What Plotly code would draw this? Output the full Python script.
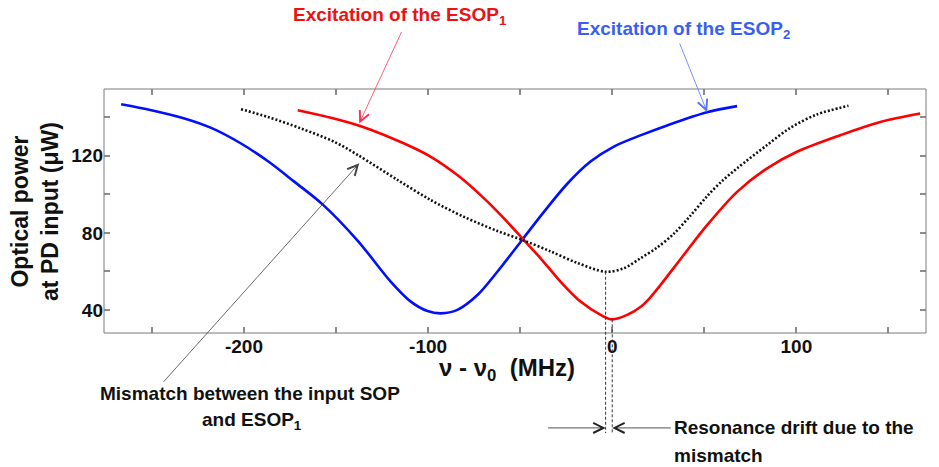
import numpy as np
import plotly.graph_objects as go

# ---- data ----
blue_x = [-266.7, -250.3, -232.3, -217.8, -201.6, -187.1, -172.7, -157.3, -138.3,
          -120.2, -109.4, -100.3, -93.1, -84.1, -73.2, -62.4, -49.7, -37.1,
          -24.4, -11.8, 0.9, 15.3, 29.8, 51.5, 67.8]
blue_y = [146.8, 143.7, 139.4, 134.5, 126.4, 117.3, 106.6, 94.8, 76.0,
          54.6, 44.3, 39.4, 38.2, 40.0, 47.7, 59.8, 75.4, 90.9,
          105.5, 117.0, 124.8, 130.6, 135.8, 142.6, 145.8]

red_x = [-170.8, -152.8, -136.5, -113.0, -98.5, -84.1, -69.6, -58.8, -48.8,
         -38.9, -28.0, -17.2, -6.3, 0.0, 8.1, 15.3, 20.5, 26.2, 38.8, 51.5,
         67.8, 84.1, 100.3, 123.8, 145.5, 167.2]
red_y = [143.7, 139.8, 135.4, 126.4, 119.5, 110.0, 97.9, 87.5, 77.1,
         66.8, 54.6, 44.3, 37.4, 35.1, 37.4, 41.5, 46.3, 52.9, 68.5, 84.0,
         101.3, 113.5, 122.1, 130.7, 137.6, 142.0]

black_x = [-201.6, -187.1, -169.0, -151.0, -138.3, -116.6, -98.5, -80.5, -62.4,
           -47.9, -33.5, -19.0, -3.6, 6.3, 15.3, 24.3, 33.4, 42.5, 51.5, 59.5, 67.8, 84.1,
           96.7, 111.2, 128.3]
black_y = [144.2, 140.2, 134.2, 127.3, 120.5, 107.5, 97.0, 88.3, 81.0,
           76.0, 70.4, 64.4, 59.8, 61.6, 66.8, 72.3, 79.5, 89.0, 99.0, 106.8, 113.5, 125.6,
           134.5, 141.5, 146.0]

x_tickvals = [-250, -200, -150, -100, -50, 0, 50, 100, 150]
x_ticktext = ["", "-200", "", "-100", "", "0", "", "100", ""]
y_tickvals = [40, 60, 80, 100, 120, 140]
y_ticktext = ["40", "", "80", "", "120", ""]

X_RANGE = [-276, 170.4]
Y_RANGE = [28.0, 154.7]

FONT = "Liberation Sans, Arial, sans-serif"
AXCOL = "#7a7a7a"

fig = go.Figure()
fig.add_trace(go.Scatter(x=blue_x, y=blue_y, mode="lines",
                         line=dict(color="#0010ff", width=2.6, shape="spline", smoothing=0.9)))
fig.add_trace(go.Scatter(x=red_x, y=red_y, mode="lines",
                         line=dict(color="#ff0000", width=2.6, shape="spline", smoothing=0.9)))
fig.add_trace(go.Scatter(x=black_x, y=black_y, mode="lines",
                         line=dict(color="#111111", width=2.6, dash="2px,2px", shape="spline", smoothing=0.9)))


def px(v):
    return (v - X_RANGE[0]) / (X_RANGE[1] - X_RANGE[0])


def py(v):
    return (v - Y_RANGE[0]) / (Y_RANGE[1] - Y_RANGE[0])


# frame
fig.add_shape(type="rect", xref="paper", yref="paper", x0=0, x1=1, y0=0, y1=1,
              line=dict(color=AXCOL, width=1), layer="above")

# dashed verticals at the two minima
bi = int(np.argmin(black_y))
ri = int(np.argmin(red_y))
for xm, ym in [(black_x[bi], black_y[bi]), (red_x[ri], red_y[ri])]:
    fig.add_shape(type="line", xref="paper", yref="paper",
                  x0=px(xm), x1=px(xm), y0=py(ym), y1=-0.41,
                  line=dict(color="#333333", width=1, dash="3px,2px"))

# drift arrows
fig.add_annotation(xref="paper", yref="paper", x=px(black_x[bi]), y=-0.389, ax=-59, ay=0,
                   text="", showarrow=True, arrowhead=5, arrowsize=2.5, arrowwidth=0.8,
                   arrowcolor="#222222")
fig.add_annotation(xref="paper", yref="paper", x=px(red_x[ri]), y=-0.389, ax=60, ay=0,
                   text="", showarrow=True, arrowhead=5, arrowsize=2.5, arrowwidth=0.8,
                   arrowcolor="#222222")

# pointer arrows
fig.add_annotation(x=-137.4, y=136.8, ax=43, ay=-93, text="", showarrow=True,
                   arrowhead=5, arrowsize=2.5, arrowwidth=0.8, arrowcolor="#ff3355")
fig.add_annotation(x=51.5, y=142.8, ax=-28, ay=-70, text="", showarrow=True,
                   arrowhead=5, arrowsize=2.5, arrowwidth=0.8, arrowcolor="#5577ff")
fig.add_annotation(x=-137.4, y=116.1, ax=-197, ay=220, text="", showarrow=True,
                   arrowhead=5, arrowsize=2.5, arrowwidth=0.8, arrowcolor="#444444")

# texts
fig.add_annotation(xref="paper", yref="paper", x=0.360, y=1.30, showarrow=False,
                   text="<b>Excitation of the ESOP<sub>1</sub></b>",
                   font=dict(family=FONT, size=19, color="#ee1111"), xanchor="center", yanchor="middle")
fig.add_annotation(xref="paper", yref="paper", x=0.705, y=1.24, showarrow=False,
                   text="<b>Excitation of the ESOP<sub>2</sub></b>",
                   font=dict(family=FONT, size=19, color="#3a5ff0"), xanchor="center", yanchor="middle")
fig.add_annotation(xref="paper", yref="paper", x=0.178, y=-0.246, showarrow=False,
                   text="<b>Mismatch between the input SOP</b>",
                   font=dict(family=FONT, size=19, color="#111111"), xanchor="center", yanchor="middle")
fig.add_annotation(xref="paper", yref="paper", x=0.180, y=-0.36, showarrow=False,
                   text="<b>and ESOP<sub>1</sub></b>",
                   font=dict(family=FONT, size=19, color="#111111"), xanchor="center", yanchor="middle")
fig.add_annotation(xref="paper", yref="paper", x=0.691, y=-0.389, showarrow=False,
                   text="<b>Resonance drift due to the</b>",
                   font=dict(family=FONT, size=19, color="#111111"), xanchor="left", yanchor="middle")
fig.add_annotation(xref="paper", yref="paper", x=0.691, y=-0.50, showarrow=False,
                   text="<b>mismatch</b>",
                   font=dict(family=FONT, size=19, color="#111111"), xanchor="left", yanchor="middle")
# axis titles
fig.add_annotation(xref="paper", yref="paper", x=0.49, y=-0.148, showarrow=False,
                   text="<b>ν - ν<sub>0</sub>  (MHz)</b>",
                   font=dict(family=FONT, size=24, color="#111111"), xanchor="center", yanchor="middle")
fig.add_annotation(xref="paper", yref="paper", x=-0.084, y=0.5, showarrow=False, textangle=-90,
                   text="<b>Optical power<br>at PD input (μW)</b>",
                   font=dict(family=FONT, size=23, color="#111111"), xanchor="center", yanchor="middle")

axis_common = dict(showgrid=False, zeroline=False, showline=False,
                   mirror="allticks", ticks="inside", ticklen=6, tickcolor="#8c8c8c", tickwidth=2,
                   tickfont=dict(family=FONT, size=19, color="#111111"))

fig.update_xaxes(range=X_RANGE, tickmode="array", tickvals=x_tickvals,
                 ticktext=["<b>%s</b>" % t if t else "" for t in x_ticktext], **axis_common)
fig.update_yaxes(range=Y_RANGE, tickmode="array", tickvals=y_tickvals,
                 ticktext=["<b>%s</b>" % t if t else "" for t in y_ticktext], **axis_common)

fig.update_layout(template="none", width=939, height=467, showlegend=False,
                  margin=dict(l=104, r=13, t=89, b=134),
                  paper_bgcolor="white", plot_bgcolor="white")

fig.write_html("out.html", config={"displayModeBar": False},
               post_script="document.body.style.margin='0';document.body.style.padding='0';")
